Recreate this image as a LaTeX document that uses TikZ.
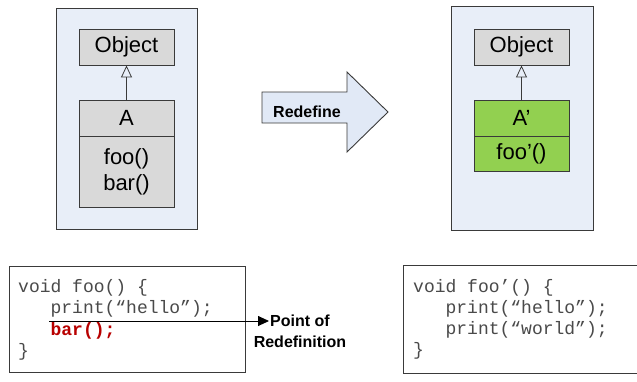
\documentclass[tikz,border=0pt]{standalone}
\usepackage{fontspec}
\setmainfont{Liberation Sans}
\setmonofont{Liberation Mono}
\usetikzlibrary{arrows.meta}
\definecolor{panelbg}{HTML}{E8EEF8}
\definecolor{boxgray}{HTML}{D9D9D9}
\definecolor{boxgreen}{HTML}{92D050}
\definecolor{arrowbg}{HTML}{E1E9F6}
\definecolor{edge}{HTML}{3A3A3A}
\definecolor{codetext}{HTML}{4A4A4A}
\definecolor{codered}{HTML}{B80000}
\tikzset{
  panel/.style={draw=edge, fill=panelbg, line width=0.9pt},
  umlbox/.style={draw=edge, fill=boxgray, line width=0.9pt, minimum width=95pt, inner sep=0pt, font=\fontsize{22}{26}\selectfont},
  greenbox/.style={umlbox, fill=boxgreen},
  inherit/.style={draw=edge, line width=0.8pt, -{Triangle[open, length=12pt, width=11pt]}},
  codebox/.style={draw=edge, fill=white, line width=0.9pt},
  codetxt/.style={inner sep=0pt, anchor=base west, text=codetext, font=\fontsize{18}{22}\selectfont\ttfamily},
  boldlbl/.style={inner sep=0pt, font=\fontsize{16}{21}\selectfont\bfseries}
}
\begin{document}
\begin{tikzpicture}[x=1pt, y=-1pt]
\useasboundingbox (0,0) rectangle (637,381);
% panels
\draw[panel] (56,8) rectangle (197,229);
\draw[panel] (451,6) rectangle (593,230);
% left UML
\node[umlbox, minimum height=36pt] (obj1) at (126.5,47) {Object};
\node[umlbox, minimum height=36pt] (a1) at (126.5,118) {A};
\node[umlbox, minimum height=71pt, align=center] (a1b) at (126.5,171.5) {foo()\\bar()};
\draw[inherit] (a1.north) -- (obj1.south);
% right UML
\node[umlbox, minimum height=36pt] (obj2) at (521.5,47) {Object};
\node[greenbox, minimum height=36pt] (a2) at (521.5,118) {A’};
\node[greenbox, minimum height=35pt] (a2b) at (521.5,153.5) {foo’()};
\draw[inherit] (a2.north) -- (obj2.south);
% redefine arrow
\draw[draw=edge, fill=arrowbg, line width=0.9pt]
  (262,92) -- (347,92) -- (347,72) -- (388,112) -- (347,152) -- (347,123) -- (262,123) -- cycle;
\node[boldlbl, anchor=base west] (redef) at (273,117) {Redefine};
% left code box
\draw[codebox] (9,266) rectangle (245,372);
\node[codetxt] (code1) at (18,292) {\vtop{\baselineskip=21.5pt
\hbox{void foo() \{}
\hbox{\hphantom{xxx}print(“hello”);}
\hbox{\hphantom{xxx}{\bfseries\color{codered}bar();}}
\hbox{\}}}};
% right code box
\draw[codebox] (403,265) rectangle (645,373);
\node[codetxt] (code2) at (413,292) {\vtop{\baselineskip=21pt
\hbox{void foo’() \{}
\hbox{\hphantom{xxx}print(“hello”);}
\hbox{\hphantom{xxx}print(“world”);}
\hbox{\}}}};
% point of redefinition
\node[boldlbl, align=center, anchor=center] (por) at (300,331.5) {Point of\\Redefinition};
\coordinate (ls) at (49,321);
\coordinate (tip) at (269,321);
\draw[line width=0.9pt, -{Triangle[length=11pt, width=10pt]}] (ls) -- (tip);
\end{tikzpicture}
\end{document}
